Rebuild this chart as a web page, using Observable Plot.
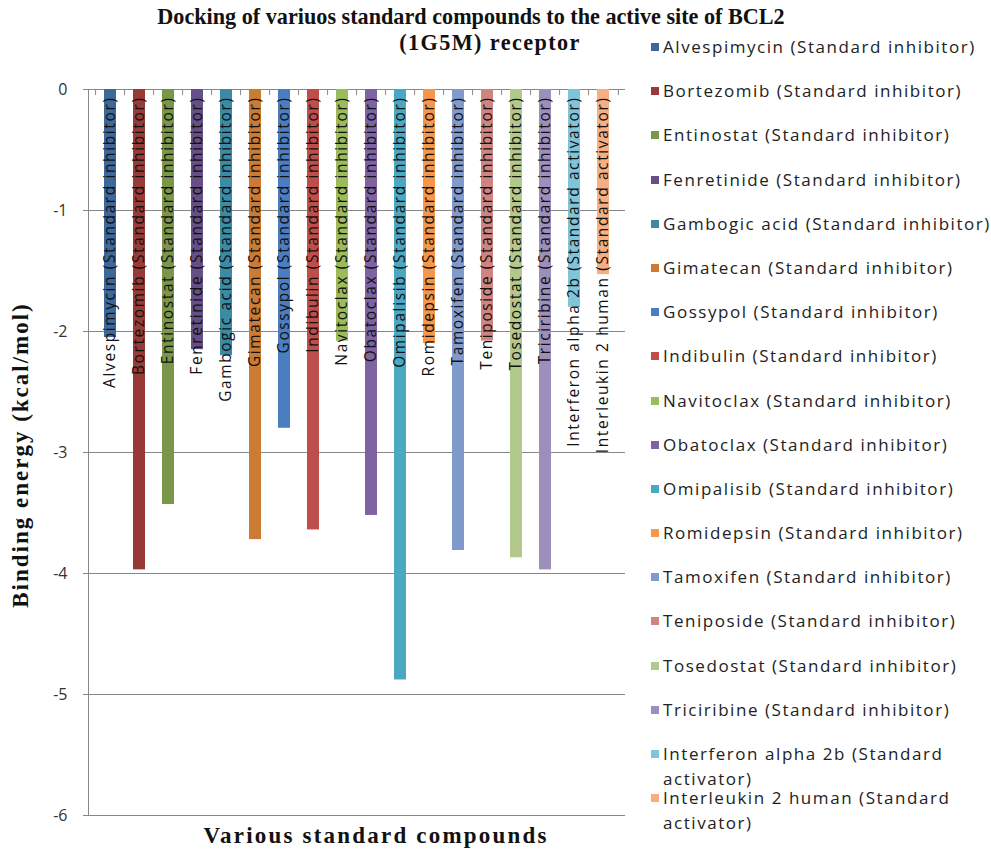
<!DOCTYPE html>
<html>
<head>
<meta charset="utf-8">
<script src="https://cdn.jsdelivr.net/npm/d3@7"></script>
<script src="https://cdn.jsdelivr.net/npm/@observablehq/plot@0.6"></script>
<style>
  body { margin: 0; background: #fff; }
  #chart { position: relative; width: 991px; height: 850px; overflow: hidden; font-family: "Open Sans", sans-serif; }
  #chart svg { position: absolute; left: 0; top: 0; }
  .serif { position: absolute; font-family: "Liberation Serif", "Times New Roman", serif; font-weight: bold; color: #111; white-space: nowrap; line-height: 26px; }
  .title { font-size: 22.2px; transform: translateX(-50%); }
  .title.sub { letter-spacing: 1.4px; }
  .axis-label { font-size: 23px; letter-spacing: 2.2px; transform: translate(-50%, -50%); }
  .axis-label.vertical { letter-spacing: 2px; transform: translate(-50%, -50%) rotate(-90deg); }
  .legend { position: absolute; left: 651px; top: 34px; width: 345px; }
  .legend .item { display: flex; align-items: flex-start; height: 44.2px; }
  .legend .sw { width: 8px; height: 8px; margin-top: 9px; margin-right: 4px; flex: none; }
  .legend .lab { font-size: 17px; letter-spacing: 1.55px; line-height: 25px; color: #222; white-space: pre-wrap; width: 336px; }
  .bar-label { letter-spacing: 1.6px; }
</style>
</head>
<body>
<div id="chart"></div>
<script>
// Compounds docked into BCL2 (1G5M), in plotting order
const compounds = [
  "Alvespimycin", "Bortezomib", "Entinostat", "Fenretinide", "Gambogic acid", "Gimatecan",
  "Gossypol", "Indibulin", "Navitoclax", "Obatoclax", "Omipalisib", "Romidepsin",
  "Tamoxifen", "Teniposide", "Tosedostat", "Triciribine", "Interferon alpha 2b", "Interleukin 2 human"
];
const roles = [
  "Standard inhibitor", "Standard inhibitor", "Standard inhibitor", "Standard inhibitor", "Standard inhibitor", "Standard inhibitor",
  "Standard inhibitor", "Standard inhibitor", "Standard inhibitor", "Standard inhibitor", "Standard inhibitor", "Standard inhibitor",
  "Standard inhibitor", "Standard inhibitor", "Standard inhibitor", "Standard inhibitor", "Standard activator", "Standard activator"
];
// Binding energy, kcal/mol
const energies = [
  -2.05, -3.97, -3.43, -2.15, -2.2, -3.72,
  -2.8, -3.64, -2.08, -3.52, -4.88, -2.1,
  -3.81, -2.08, -3.87, -3.97, -1.8, -1.53
];
const colors = [
  "#3d6899", "#983a38", "#7a9649", "#654f86", "#3a8ba3", "#cb7b34",
  "#4a7ec1", "#bf4d4a", "#9cbb5a", "#7e62a1", "#4ba8c3", "#f5964a",
  "#7f9acb", "#d08482", "#b2c98b", "#9c8fbc", "#80c4d9", "#f7ae80"
];
const yTicks = [0, -1, -2, -3, -4, -5, -6];
const titleLines = ["Docking of variuos standard compounds to the active site of BCL2", "(1G5M) receptor"];
const yLabel = "Binding energy (kcal/mol)";
const xLabel = "Various standard compounds";

const data = compounds.map((c, i) => ({
  compound: c,
  energy: energies[i],
  label: `${c} (${roles[i]})`
}));

const W = 991, H = 850;
const margin = {top: 89, right: 366, bottom: 35, left: 88};
const step = (W - margin.left - margin.right) / compounds.length;
const axisGray = "#878787";

const plot = Plot.plot({
  width: W,
  height: H,
  marginTop: margin.top,
  marginRight: margin.right,
  marginBottom: margin.bottom,
  marginLeft: margin.left,
  style: {fontFamily: '"Open Sans", sans-serif', background: "transparent"},
  x: {domain: compounds, paddingInner: 0.6, paddingOuter: 0.3, axis: null},
  y: {domain: [-6, 0], axis: null},
  color: {domain: compounds, range: colors},
  marks: [
    Plot.gridY(yTicks, {stroke: axisGray, strokeOpacity: 1}),
    Plot.frame({anchor: "left", stroke: axisGray}),
    // category tick marks between the bars, hanging from the zero line
    Plot.ruleX(compounds, {x: d => d, y1: 0, y2: -0.05, dx: -step / 2, stroke: axisGray}),
    Plot.ruleX(compounds.slice(-1), {x: d => d, y1: 0, y2: -0.05, dx: step / 2, stroke: axisGray}),
    Plot.barY(data, {x: "compound", y: "energy", fill: "compound"}),
    Plot.text(data, {
      x: "compound", y: () => 0, text: "label",
      rotate: -90, textAnchor: "end", dy: 7,
      fontSize: 15.5, fill: "#111", className: "bar-label"
    }),
    Plot.axisY({
      ticks: yTicks, tickSize: 5, tickPadding: 16,
      tickFormat: d => String(d), fontSize: 16,
      stroke: axisGray, fill: "#333", label: null
    })
  ]
});

const chart = document.getElementById("chart");
chart.appendChild(plot);

// Title
const titleTops = [4, 30];
const titleCenters = [471, 490];
titleLines.forEach((t, i) => {
  const d = document.createElement("div");
  d.className = i === 0 ? "serif title" : "serif title sub";
  d.style.left = titleCenters[i] + "px";
  d.style.top = titleTops[i] + "px";
  d.textContent = t;
  chart.appendChild(d);
});

// Axis titles
const yl = document.createElement("div");
yl.className = "serif axis-label vertical";
yl.style.left = "21px";
yl.style.top = "455px";
yl.textContent = yLabel;
chart.appendChild(yl);

const xl = document.createElement("div");
xl.className = "serif axis-label";
xl.style.left = "376px";
xl.style.top = "836px";
xl.textContent = xLabel;
chart.appendChild(xl);

// Legend
const legend = d3.select(chart).append("div").attr("class", "legend");
const items = legend.selectAll("div.item").data(data).join("div").attr("class", "item");
items.append("div").attr("class", "sw").style("background", (d, i) => colors[i]);
items.append("div").attr("class", "lab").text(d => d.label);
</script>
</body>
</html>
